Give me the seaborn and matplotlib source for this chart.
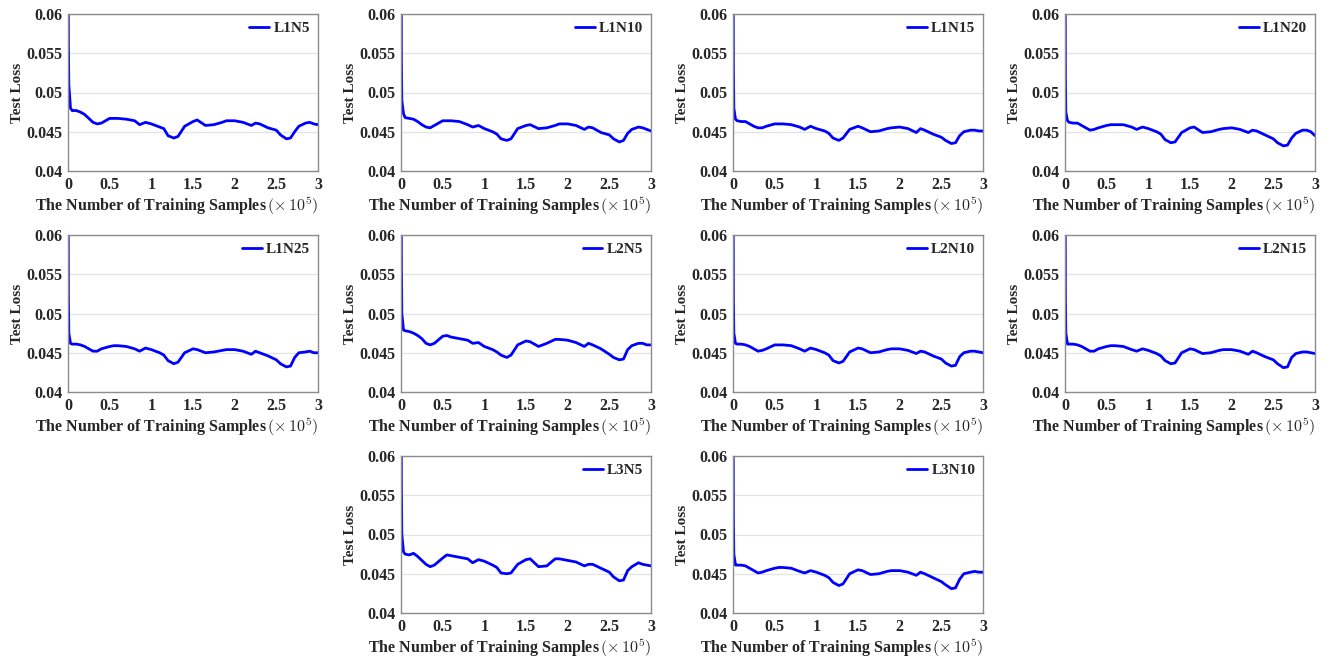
"""
Test loss curves for the different L/N configurations, one panel each.
"""

import matplotlib

matplotlib.use("Agg")

import matplotlib.pyplot as plt
import pandas as pd
import seaborn as sns

# training samples (x 1e5), shared by all curves
SAMPLES = [0, 0.005, 0.01, 0.03, 0.05, 0.1, 0.15, 0.2, 0.25, 0.3,
           0.35, 0.4, 0.5, 0.55, 0.6, 0.7, 0.8, 0.86, 0.93, 1.0,
           1.1, 1.15, 1.2, 1.27, 1.32, 1.4, 1.5, 1.55, 1.65, 1.75,
           1.85, 1.9, 2.0, 2.1, 2.2, 2.25, 2.3, 2.4, 2.5, 2.55,
           2.62, 2.67, 2.72, 2.77, 2.85, 2.9, 2.95, 3.0]

L1N5 = [.075, .056, .051, .0480, .0477, .0477, .0475, .0472, .0467, .0462,
        .0460, .0461, .0467, .0467, .0467, .0466, .0464, .0459, .0462, .0460,
        .0456, .0454, .0445, .0442, .0444, .0457, .0463, .0465, .0458, .0459,
        .0462, .0464, .0464, .0462, .0458, .0461, .0460, .0455, .0452, .0446,
        .0441, .0442, .0450, .0457, .0461, .0462, .0460, .0459]
L1N10 = [.075, .054, .049, .0473, .0468, .0467, .0466, .0463, .0459, .0456,
         .0455, .0458, .0464, .0464, .0464, .0463, .0459, .0456, .0458, .0454,
         .0450, .0447, .0441, .0439, .0441, .0454, .0458, .0459, .0454, .0455,
         .0458, .0460, .0460, .0458, .0453, .0456, .0455, .0449, .0446, .0441,
         .0437, .0439, .0448, .0453, .0456, .0455, .0453, .0451]
L1N15 = [.075, .053, .048, .0466, .0464, .0463, .0463, .0460, .0457, .0455,
         .0455, .0457, .0460, .0460, .0460, .0459, .0456, .0453, .0457, .0454,
         .0451, .0448, .0442, .0439, .0442, .0453, .0457, .0455, .0450, .0451,
         .0454, .0455, .0456, .0454, .0449, .0454, .0452, .0447, .0443, .0439,
         .0435, .0436, .0445, .0450, .0452, .0452, .0451, .0451]
L1N20 = [.075, .052, .0475, .0464, .0462, .0461, .0461, .0458, .0455, .0452,
         .0453, .0455, .0458, .0459, .0459, .0459, .0456, .0453, .0456, .0454,
         .0450, .0447, .0440, .0436, .0437, .0449, .0455, .0456, .0449, .0450,
         .0453, .0454, .0455, .0453, .0449, .0452, .0451, .0446, .0441, .0436,
         .0432, .0433, .0442, .0448, .0452, .0452, .0450, .0445]
L1N25 = [.075, .052, .0475, .0462, .0461, .0461, .0460, .0458, .0455, .0452,
         .0452, .0455, .0458, .0459, .0459, .0458, .0455, .0452, .0456, .0454,
         .0450, .0447, .0440, .0436, .0438, .0450, .0455, .0454, .0450, .0451,
         .0453, .0454, .0454, .0452, .0448, .0452, .0450, .0446, .0441, .0436,
         .0432, .0433, .0444, .0450, .0451, .0452, .0450, .0450]
L2N5 = [.075, .056, .050, .0479, .0478, .0477, .0475, .0472, .0468, .0462,
        .0460, .0462, .0471, .0472, .0470, .0468, .0466, .0462, .0463, .0458,
        .0454, .0451, .0447, .0444, .0447, .0460, .0465, .0464, .0458, .0462,
        .0467, .0467, .0466, .0463, .0458, .0462, .0460, .0455, .0448, .0444,
        .0441, .0442, .0454, .0459, .0462, .0462, .0460, .0460]
L2N10 = [.075, .052, .0475, .0462, .0461, .0461, .0460, .0458, .0455, .0452,
         .0453, .0455, .0460, .0460, .0460, .0459, .0455, .0452, .0456, .0454,
         .0450, .0447, .0440, .0437, .0439, .0451, .0456, .0455, .0450, .0451,
         .0454, .0455, .0455, .0453, .0449, .0452, .0451, .0446, .0442, .0437,
         .0433, .0434, .0445, .0450, .0452, .0452, .0451, .0450]
L2N15 = [.075, .052, .0475, .0461, .0461, .0461, .0460, .0458, .0455, .0452,
         .0452, .0455, .0458, .0459, .0459, .0458, .0454, .0452, .0455, .0453,
         .0449, .0446, .0440, .0436, .0437, .0450, .0455, .0454, .0449, .0450,
         .0453, .0454, .0454, .0452, .0448, .0452, .0450, .0445, .0441, .0436,
         .0431, .0432, .0444, .0449, .0451, .0451, .0450, .0449]
L3N5 = [.075, .056, .050, .0478, .0475, .0474, .0476, .0472, .0467, .0462,
        .0459, .0461, .0470, .0474, .0473, .0471, .0469, .0464, .0468, .0466,
        .0461, .0458, .0451, .0450, .0451, .0462, .0468, .0469, .0459, .0460,
        .0469, .0469, .0467, .0465, .0460, .0462, .0462, .0457, .0452, .0446,
        .0441, .0442, .0454, .0459, .0464, .0462, .0461, .0460]
L3N10 = [.075, .052, .0475, .0461, .0461, .0461, .0460, .0457, .0454, .0451,
         .0452, .0454, .0457, .0458, .0458, .0457, .0453, .0451, .0454, .0452,
         .0448, .0445, .0439, .0435, .0437, .0450, .0455, .0454, .0449, .0450,
         .0453, .0454, .0454, .0452, .0448, .0452, .0450, .0445, .0440, .0436,
         .0431, .0432, .0443, .0450, .0452, .0453, .0452, .0452]

CURVES = [
    ("L1N5", L1N5), ("L1N10", L1N10), ("L1N15", L1N15), ("L1N20", L1N20),
    ("L1N25", L1N25), ("L2N5", L2N5), ("L2N10", L2N10), ("L2N15", L2N15),
    ("L3N5", L3N5), ("L3N10", L3N10),
]

X_TICKS = [0, 0.5, 1, 1.5, 2, 2.5, 3]
X_TICK_LABELS = ["0", "0.5", "1", "1.5", "2", "2.5", "3"]
Y_TICKS = [0.04, 0.045, 0.05, 0.055, 0.06]
Y_TICK_LABELS = ["0.04", "0.045", "0.05", "0.055", "0.06"]

# panel slots (column, row) in a 4x3 grid; last row only uses the middle two
SLOTS = [(0, 0), (1, 0), (2, 0), (3, 0),
         (0, 1), (1, 1), (2, 1), (3, 1),
         (1, 2), (2, 2)]

sns.set_style("white")
plt.rcParams["font.family"] = ["Liberation Serif", "DejaVu Serif"]
plt.rcParams["font.weight"] = "bold"
plt.rcParams["mathtext.fontset"] = "cm"

W, H = 1332, 663
fig = plt.figure(figsize=(W / 100, H / 100), dpi=100)

col_left = [68, 401, 733, 1065]
row_top = [14, 235, 456]
ax_w, ax_h = 250, 157

for (name, values), (col, row) in zip(CURVES, SLOTS):
    left = col_left[col] / W
    bottom = 1 - (row_top[row] + ax_h) / H
    ax = fig.add_axes([left, bottom, ax_w / W, ax_h / H])

    df = pd.DataFrame({"samples": SAMPLES, "loss": values})
    sns.lineplot(data=df, x="samples", y="loss", color="#0000ff",
                 linewidth=2.0, label=name, ax=ax)

    ax.set_xlim(0, 3)
    ax.set_ylim(0.04, 0.06)
    ax.set_xticks(X_TICKS)
    ax.set_xticklabels(X_TICK_LABELS, fontsize=11.5, fontweight="bold")
    ax.set_yticks(Y_TICKS)
    ax.set_yticklabels(Y_TICK_LABELS, fontsize=11.5, fontweight="bold")
    ax.tick_params(length=0, pad=4)
    ax.grid(axis="y", color="#e3e3e3", linewidth=0.9)
    for spine in ax.spines.values():
        spine.set_color("#8c8c8c")
        spine.set_linewidth(1.0)

    ax.set_xlabel(r"The Number of Training Samples$\,(\times\,10^5)$",
                  fontsize=11.5, fontweight="bold", labelpad=2, loc="right")
    ax.set_ylabel("Test Loss", fontsize=11, fontweight="bold", labelpad=2)

    ax.legend(loc="upper right", frameon=False, handlelength=1.3,
              handletextpad=0.3, borderaxespad=0.1,
              prop={"size": 11, "weight": "bold"})

fig.savefig("out.png", dpi=100)
plt.close(fig)
